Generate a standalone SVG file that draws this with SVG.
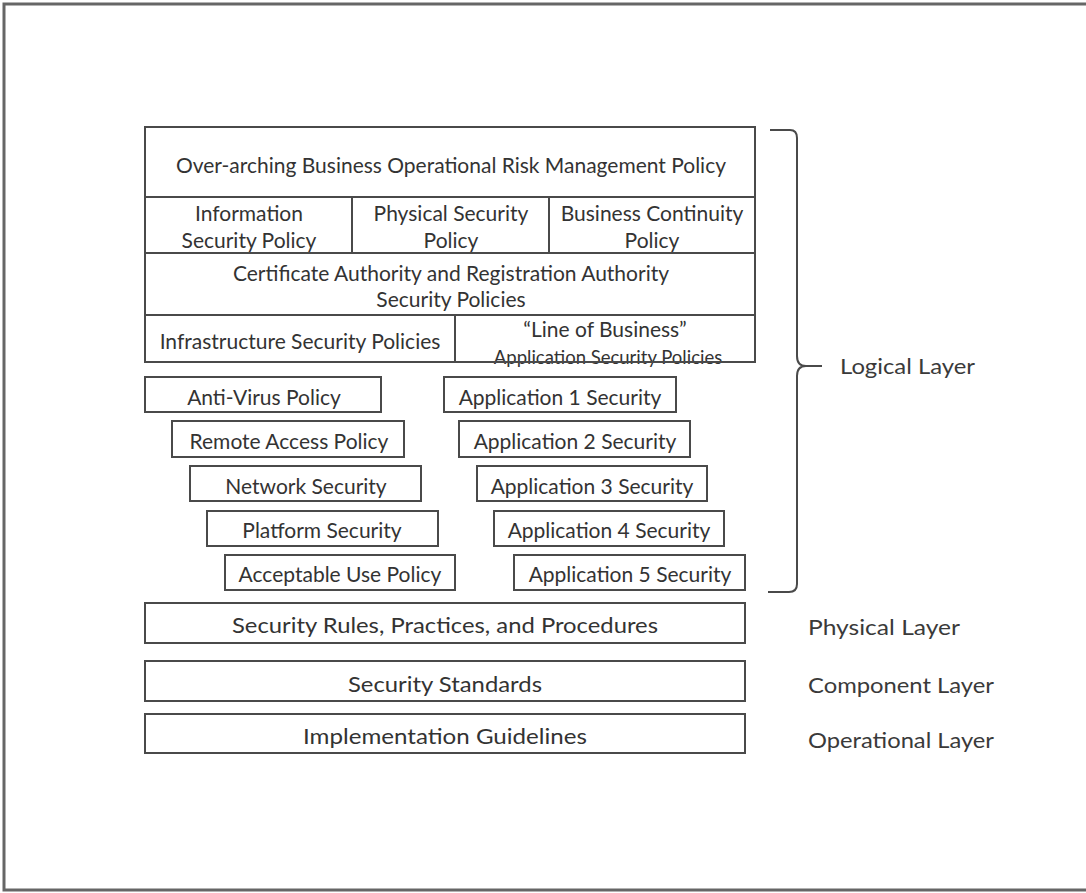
<svg xmlns="http://www.w3.org/2000/svg" width="1086" height="893" viewBox="0 0 1086 893">
  <style>
    .box { fill: #ffffff; stroke: #4a4a4a; stroke-width: 2; }
    .line { fill: none; stroke: #4a4a4a; stroke-width: 2; }
    .t { font-family: Lato, "Open Sans", "Liberation Sans", sans-serif; font-size: 21px; fill: #333333; text-anchor: middle; }
    .small { font-size: 18.5px; }
    .cond { font-size: 22px; }
    .lbl { font-family: Lato, "Open Sans", "Liberation Sans", sans-serif; font-size: 21px; fill: #3a3a3a; }
  </style>
  <rect width="1086" height="893" fill="#ffffff"/>
  <!-- outer frame, open on the right -->
  <path d="M1090 4 H4 V890 H1090" fill="none" stroke="#666666" stroke-width="3"/>

  <!-- policy stack -->
  <g id="policy-stack">
    <rect class="box" x="145" y="127" width="610" height="235"/>
    <line class="line" x1="145" y1="197" x2="755" y2="197"/>
    <line class="line" x1="145" y1="253" x2="755" y2="253"/>
    <line class="line" x1="145" y1="315" x2="755" y2="315"/>
    <line class="line" x1="352" y1="197" x2="352" y2="253"/>
    <line class="line" x1="549" y1="197" x2="549" y2="253"/>
    <line class="line" x1="455" y1="315" x2="455" y2="362"/>
  </g>
  <g id="risk-policy">
    <text class="t" x="451" y="173" textLength="550" lengthAdjust="spacingAndGlyphs">Over-arching Business Operational Risk Management Policy</text>
  </g>
  <g id="info-sec">
    <text class="t" x="249" y="221">Information</text>
    <text class="t" x="249" y="248">Security Policy</text>
  </g>
  <g id="phys-sec">
    <text class="t" x="451" y="221">Physical Security</text>
    <text class="t" x="451" y="248">Policy</text>
  </g>
  <g id="bc-policy">
    <text class="t" x="652" y="221">Business Continuity</text>
    <text class="t" x="652" y="248">Policy</text>
  </g>
  <g id="ca-ra">
    <text class="t" x="451" y="281">Certificate Authority and Registration Authority</text>
    <text class="t" x="451" y="307">Security Policies</text>
  </g>
  <g id="infra-sec">
    <text class="t" x="300" y="349">Infrastructure Security Policies</text>
  </g>
  <g id="lob-sec">
    <text class="t" x="605" y="337">“Line of Business”</text>
    <text class="t small" x="608" y="364">Application Security Policies</text>
  </g>
  <!-- bottom edge redrawn over the clipped second line -->
  <line class="line" x1="455" y1="362" x2="755" y2="362"/>

  <!-- infrastructure policies -->
  <g id="anti-virus"><rect class="box" x="145" y="377" width="236" height="35"/><text class="t" x="264" y="405">Anti-Virus Policy</text></g>
  <g id="remote-access"><rect class="box" x="172" y="421" width="232" height="36"/><text class="t" x="289" y="449">Remote Access Policy</text></g>
  <g id="network"><rect class="box" x="190" y="466" width="231" height="35"/><text class="t" x="306" y="494">Network Security</text></g>
  <g id="platform"><rect class="box" x="207" y="511" width="231" height="35"/><text class="t" x="322" y="538">Platform Security</text></g>
  <g id="acceptable-use"><rect class="box" x="225" y="555" width="230" height="35"/><text class="t" x="340" y="582">Acceptable Use Policy</text></g>

  <!-- application policies -->
  <g id="app1"><rect class="box" x="444" y="377" width="232" height="35"/><text class="t" x="560" y="405">Application 1 Security</text></g>
  <g id="app2"><rect class="box" x="459" y="421" width="231" height="36"/><text class="t" x="575" y="449">Application 2 Security</text></g>
  <g id="app3"><rect class="box" x="477" y="466" width="230" height="35"/><text class="t" x="592" y="494">Application 3 Security</text></g>
  <g id="app4"><rect class="box" x="494" y="511" width="230" height="35"/><text class="t" x="609" y="538">Application 4 Security</text></g>
  <g id="app5"><rect class="box" x="514" y="555" width="231" height="35"/><text class="t" x="630" y="582">Application 5 Security</text></g>

  <!-- lower layers -->
  <g id="rules"><rect class="box" x="145" y="603" width="600" height="40"/><text class="t cond" x="445" y="633" textLength="426" lengthAdjust="spacingAndGlyphs">Security Rules, Practices, and Procedures</text></g>
  <g id="standards"><rect class="box" x="145" y="661" width="600" height="40"/><text class="t cond" x="445" y="692" textLength="194" lengthAdjust="spacingAndGlyphs">Security Standards</text></g>
  <g id="guidelines"><rect class="box" x="145" y="714" width="600" height="39"/><text class="t cond" x="445" y="744" textLength="284" lengthAdjust="spacingAndGlyphs">Implementation Guidelines</text></g>

  <!-- brace and layer labels -->
  <g id="connectors">
    <path class="line" d="M770 130 H790 Q797 130 797 138 V356 Q797 366 806 366 H822 M806 366 Q797 366 797 376 V584 Q797 592 789 592 H768" stroke-width="2.5"/>
  </g>
  <g id="layer-labels">
    <text class="lbl" x="840" y="374" textLength="135" lengthAdjust="spacingAndGlyphs">Logical Layer</text>
    <text class="lbl" x="808" y="635" textLength="152" lengthAdjust="spacingAndGlyphs">Physical  Layer</text>
    <text class="lbl" x="808" y="693" textLength="186" lengthAdjust="spacingAndGlyphs">Component Layer</text>
    <text class="lbl" x="808" y="748" textLength="186" lengthAdjust="spacingAndGlyphs">Operational Layer</text>
  </g>
</svg>
